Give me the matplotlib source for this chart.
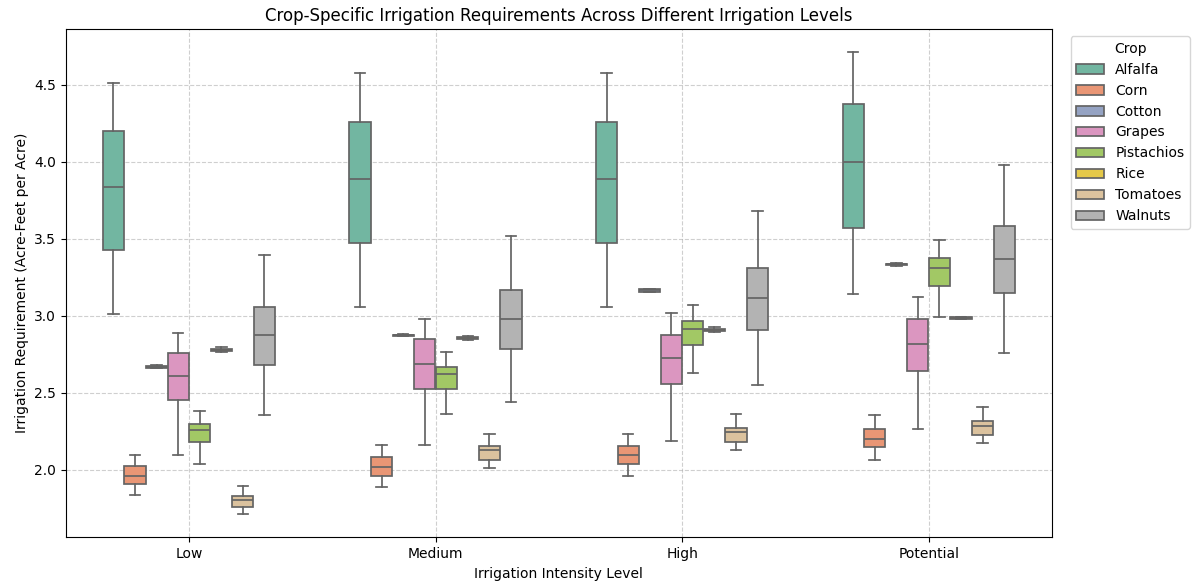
import colorsys
import matplotlib
matplotlib.use("Agg")
import matplotlib.pyplot as plt
import matplotlib.colors as mcolors
from matplotlib.patches import Patch

levels = ["Low", "Medium", "High", "Potential"]
crops = ["Alfalfa", "Corn", "Cotton", "Grapes", "Pistachios", "Rice", "Tomatoes", "Walnuts"]
palette = ["#66c2a5", "#fc8d62", "#8da0cb", "#e78ac3", "#a6d854", "#ffd92f", "#e5c494", "#b3b3b3"]

# Box statistics per crop, one value per irrigation level (Low, Medium, High, Potential)
whislo = {
    "Alfalfa":    [3.008, 3.056, 3.056, 3.138],
    "Corn":       [1.833, 1.885, 1.956, 2.060],
    "Cotton":     [2.658, 2.866, 3.153, 3.322],
    "Grapes":     [2.093, 2.158, 2.186, 2.262],
    "Pistachios": [2.034, 2.359, 2.627, 2.991],
    "Rice":       [2.766, 2.843, 2.896, 2.975],
    "Tomatoes":   [1.710, 2.008, 2.125, 2.171],
    "Walnuts":    [2.353, 2.437, 2.549, 2.755],
}
q1 = {
    "Alfalfa":    [3.429, 3.471, 3.471, 3.571],
    "Corn":       [1.909, 1.961, 2.034, 2.145],
    "Cotton":     [2.662, 2.868, 3.156, 3.326],
    "Grapes":     [2.450, 2.521, 2.556, 2.638],
    "Pistachios": [2.177, 2.521, 2.807, 3.190],
    "Rice":       [2.770, 2.847, 2.899, 2.978],
    "Tomatoes":   [1.755, 2.060, 2.177, 2.223],
    "Walnuts":    [2.679, 2.783, 2.909, 3.149],
}
med = {
    "Alfalfa":    [3.835, 3.890, 3.890, 4.000],
    "Corn":       [1.956, 2.015, 2.093, 2.197],
    "Cotton":     [2.668, 2.872, 3.163, 3.332],
    "Grapes":     [2.608, 2.684, 2.725, 2.814],
    "Pistachios": [2.255, 2.621, 2.916, 3.309],
    "Rice":       [2.777, 2.853, 2.904, 2.984],
    "Tomatoes":   [1.801, 2.125, 2.242, 2.286],
    "Walnuts":    [2.872, 2.978, 3.114, 3.368],
}
q3 = {
    "Alfalfa":    [4.199, 4.257, 4.257, 4.377],
    "Corn":       [2.021, 2.080, 2.156, 2.266],
    "Cotton":     [2.674, 2.877, 3.170, 3.338],
    "Grapes":     [2.760, 2.846, 2.877, 2.976],
    "Pistachios": [2.294, 2.664, 2.963, 3.372],
    "Rice":       [2.785, 2.862, 2.910, 2.990],
    "Tomatoes":   [1.831, 2.151, 2.273, 2.318],
    "Walnuts":    [3.054, 3.164, 3.307, 3.582],
}
whishi = {
    "Alfalfa":    [4.513, 4.578, 4.578, 4.710],
    "Corn":       [2.097, 2.158, 2.234, 2.353],
    "Cotton":     [2.678, 2.880, 3.173, 3.341],
    "Grapes":     [2.887, 2.978, 3.015, 3.119],
    "Pistachios": [2.379, 2.762, 3.067, 3.491],
    "Rice":       [2.796, 2.870, 2.924, 2.993],
    "Tomatoes":   [1.892, 2.229, 2.359, 2.405],
    "Walnuts":    [3.396, 3.517, 3.679, 3.978],
}


def desat(c, prop=0.75):
    r, g, b = mcolors.to_rgb(c)
    h, l, s = colorsys.rgb_to_hls(r, g, b)
    return colorsys.hls_to_rgb(h, l, s * prop)


edge = "#646464"
lw = 1.25
total_w = 0.7
n = len(crops)
bw = total_w / n

fig, ax = plt.subplots(figsize=(11.94, 5.84), dpi=100)
ax.set_axisbelow(True)

for j, crop in enumerate(crops):
    stats = []
    positions = []
    for i, lev in enumerate(levels):
        stats.append(dict(whislo=whislo[crop][i], q1=q1[crop][i], med=med[crop][i],
                          q3=q3[crop][i], whishi=whishi[crop][i], fliers=[]))
        positions.append(i + (j - (n - 1) / 2) * bw)
    fc = desat(palette[j])
    ax.bxp(stats, positions=positions, widths=bw * 0.98, patch_artist=True,
           showfliers=False, manage_ticks=False,
           boxprops=dict(facecolor=fc, edgecolor=edge, linewidth=lw),
           medianprops=dict(color=edge, linewidth=lw),
           whiskerprops=dict(color=edge, linewidth=lw),
           capprops=dict(color=edge, linewidth=lw))

ax.set_xticks(range(len(levels)))
ax.set_xticklabels(levels)
ax.set_xlim(-0.5, len(levels) - 0.5)
ax.margins(y=0.05)
ax.autoscale(axis="y")
ax.grid(True, linestyle="--", alpha=0.6)

ax.set_title("Crop-Specific Irrigation Requirements Across Different Irrigation Levels", fontsize=12)
ax.set_xlabel("Irrigation Intensity Level")
ax.set_ylabel("Irrigation Requirement (Acre-Feet per Acre)")

handles = [Patch(facecolor=desat(c), edgecolor=edge, linewidth=lw, label=cr)
           for c, cr in zip(palette, crops)]
ax.legend(handles=handles, title="Crop", loc="upper left", bbox_to_anchor=(1.012, 1.0))

fig.subplots_adjust(left=0.055, right=0.881, top=0.95, bottom=0.08)
fig.savefig("out.png", dpi=100)
